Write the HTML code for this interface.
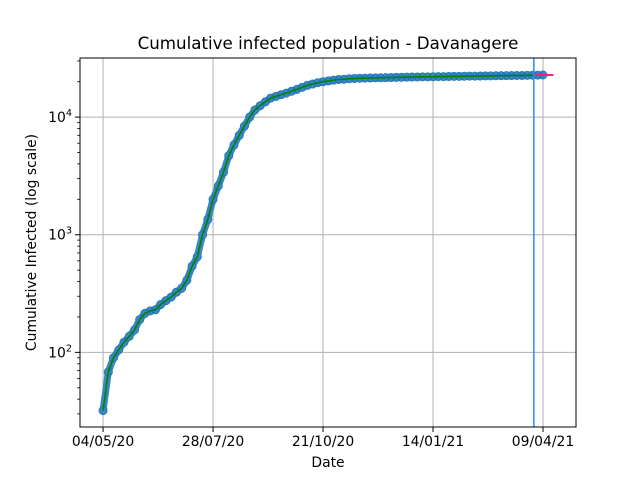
<!DOCTYPE html>
<html><head><meta charset="utf-8"><style>
body{margin:0;background:#fff}
svg{display:block;font-family:"DejaVu Sans","Liberation Sans",sans-serif}
</style></head><body>
<svg id="chart" width="640" height="480" viewBox="0 0 640 480"></svg>
<script>
const tickLabels = ["04/05/20","28/07/20","21/10/20","14/01/21","09/04/21"];
const tickDays = [0,84,168,252,336];
const dayStep = 4;
const infected = [32,68,90,105,122,137,155,190,215,225,230,255,275,295,325,350,410,540,650,1000,1350,2000,2600,3400,4700,5800,7000,8400,10000,11500,12500,13500,14500,15000,15500,16000,16600,17200,17900,18600,19100,19600,20000,20300,20600,20900,21000,21200,21300,21400,
21450,21500,21550,21600,21650,21700,21750,21800,21850,21900,21950,22000,22000,22050,22100,22100,22150,22200,22200,22250,22300,22300,22350,22400,22400,22450,22500,22500,22550,22600,22600,22650,22700,22750,22800];
const forecastDays = [329,344];
const forecastVals = [22800,22800];
const markerDay = 329;

const NS="http://www.w3.org/2000/svg";
const svg=document.getElementById('chart');
const L=80,R=576,T=58,B=427;
const dMin=-17.6,dMax=361.2;
const lMin=Math.log10(23.2),lMax=Math.log10(31800);
const X=d=>L+(d-dMin)/(dMax-dMin)*(R-L);
const Y=v=>B-(Math.log10(v)-lMin)/(lMax-lMin)*(B-T);
function mk(tag,attrs,parent){const e=document.createElementNS(NS,tag);for(const k in attrs)e.setAttribute(k,attrs[k]);(parent||svg).appendChild(e);return e;}

tickDays.forEach(d=>{const g=mk('line',{x1:X(d),x2:X(d),y1:T,y2:B,stroke:'#b0b0b0','stroke-width':1});

});
[100,1000,10000].forEach(v=>{const g=mk('line',{x1:L,x2:R,y1:Y(v),y2:Y(v),stroke:'#b0b0b0','stroke-width':1});

});

const pts=infected.map((v,i)=>X(i*dayStep)+','+Y(v)).join(' ');
const band=mk('polyline',{points:pts,fill:'none',stroke:'#3a86bd','stroke-width':7,'stroke-linejoin':'round','stroke-linecap':'round'});


infected.forEach((v,i)=>{const c=mk('circle',{cx:X(i*dayStep),cy:Y(v),r:4,fill:'none',stroke:'#1f77b4','stroke-width':1});

});
const p=mk('polyline',{points:pts,fill:'none',stroke:'#008000','stroke-width':1.5});


const f=mk('polyline',{points:forecastDays.map((d,i)=>X(d)+','+Y(forecastVals[i])).join(' '),fill:'none',stroke:'#e8287f','stroke-width':2});


const m=mk('line',{x1:X(markerDay),x2:X(markerDay),y1:T,y2:B,stroke:'#1e90ff','stroke-width':1.5});



const fr=mk('rect',{x:L,y:T,width:R-L,height:B-T,fill:'none',stroke:'#000','stroke-width':1});



tickDays.forEach((d,i)=>{mk('line',{x1:X(d),x2:X(d),y1:B,y2:B+5,stroke:'#000','stroke-width':1});
const t=mk('text',{x:X(d),y:B+19,'font-size':13.9,'text-anchor':'middle',fill:'#000'});t.textContent=tickLabels[i];

});
[100,1000,10000].forEach((v,i)=>{mk('line',{x1:L-5,x2:L,y1:Y(v),y2:Y(v),stroke:'#000','stroke-width':1});
const t=mk('text',{x:L-8,y:Y(v)+5,'font-size':13.9,'text-anchor':'end',fill:'#000'});
t.innerHTML='10<tspan dy="-6" font-size="9.7">'+(i+2)+'</tspan>';

});
for(let e=1;e<=4;e++)for(let k=2;k<=9;k++){const v=k*Math.pow(10,e);if(v<23.2||v>31800)continue;
mk('line',{x1:L-2.8,x2:L,y1:Y(v),y2:Y(v),stroke:'#000','stroke-width':0.8});}

const tt=mk('text',{x:(L+R)/2,y:49,'font-size':16.7,'text-anchor':'middle',fill:'#000'});tt.textContent='Cumulative infected population - Davanagere';


const xl=mk('text',{x:(L+R)/2,y:467,'font-size':13.9,'text-anchor':'middle',fill:'#000'});xl.textContent='Date';


const yl=mk('text',{x:0,y:0,'font-size':13.9,'text-anchor':'middle',fill:'#000',transform:'translate(36,'+((T+B)/2)+') rotate(-90)'});yl.textContent='Cumulative Infected (log scale)';


</script>
</body></html>
